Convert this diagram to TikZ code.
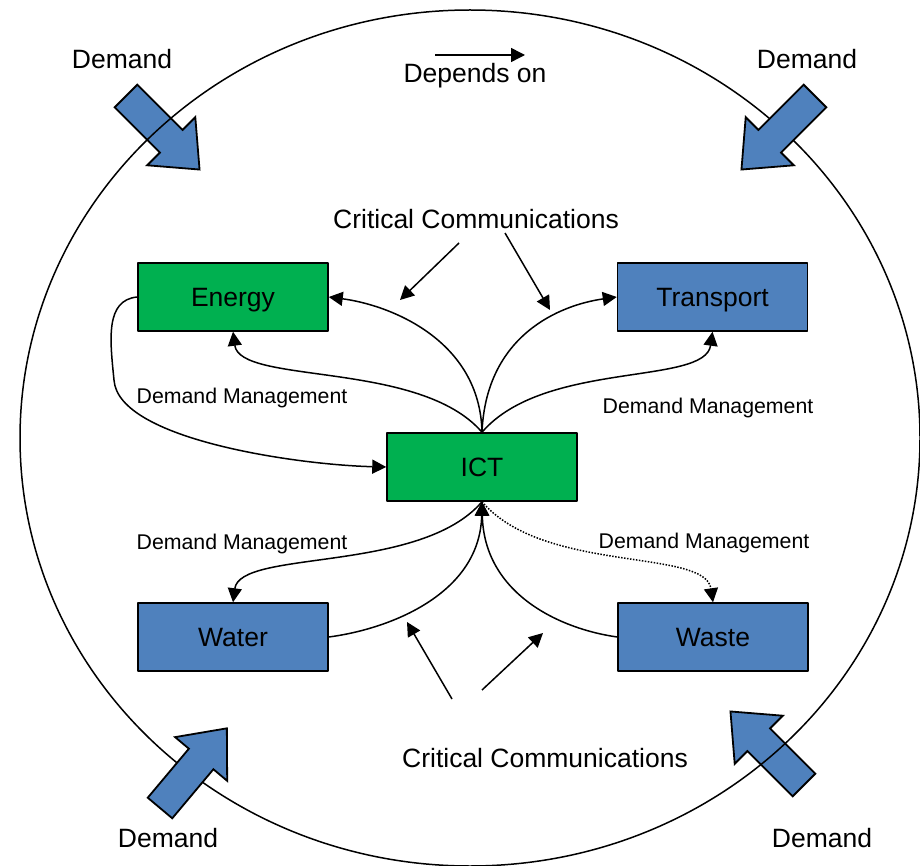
\documentclass[tikz,border=0pt]{standalone}
\usepackage{fontspec}
\setmainfont{Liberation Sans}
\usepackage{tikz}
\usetikzlibrary{arrows,arrows.meta,positioning,calc}
\definecolor{ictgreen}{HTML}{00B050}
\definecolor{sectorblue}{HTML}{4F81BD}
\newcommand\mybig{\fontsize{26.5}{30}\selectfont}
\newcommand\mysmall{\fontsize{21.3}{24}\selectfont}
\newcommand \mydemandarrow[3]
{
\begin{scope}[shift={(#1,#2)},rotate=#3]
\draw[demand] (0,-16)--(64,-16)--(64,-34)--(104,0)--(64,34)--(64,16)--(0,16)--cycle;
\end{scope}
}

\begin{document}
\begin{tikzpicture}[x=1pt,y=1pt, line join=round,
  sector/.style={draw=black, line width=1.5pt, minimum width=190pt, minimum height=68pt, text height=19pt, text depth=0pt, inner sep=0pt, font=\mybig},
  conn/.style={line width=1.5pt, -{Triangle[length=14pt,width=14pt]}},
  demand/.style={fill=sectorblue, draw=black, line width=1.8pt, line join=miter},
  lbl/.style={inner sep=0pt, anchor=base, font=\mybig},
  dm/.style={inner sep=0pt, anchor=base, font=\mysmall}]
\useasboundingbox (0,0) rectangle (920,-866);
% demand arrows, two of them under the ring
\mydemandarrow{126}{-96}{-45}
\mydemandarrow{804}{-785}{135}
\draw[line width=1.5pt] (470,-438) ellipse [x radius=450pt, y radius=428pt];
\mydemandarrow{815}{-96}{-135}
\mydemandarrow{160}{-808}{50}
% sectors
\node[sector,fill=ictgreen]   (energy)    at (233,-297)   {Energy};
\node[sector,fill=sectorblue] (transport) at (712.5,-297) {Transport};
\node[sector,fill=ictgreen]   (ict)       at (482,-467)   {ICT};
\node[sector,fill=sectorblue] (water)     at (233,-637)   {Water};
\node[sector,fill=sectorblue] (waste)     at (713,-637)   {Waste};
% texts
\node[lbl] (demandTL) at (122,-69)  {Demand};
\node[lbl] (demandTR) at (807,-69)  {Demand};
\node[lbl] (demandBL) at (168,-847) {Demand};
\node[lbl] (demandBR) at (822,-847) {Demand};
\node[lbl] (depends)  at (475,-83)  {Depends on};
\node[lbl] (critTop)  at (476,-229) {Critical Communications};
\node[lbl] (critBot)  at (545,-767) {Critical Communications};
\node[dm] (dmEnergy)    at (242,-403) {Demand Management};
\node[dm] (dmTransport) at (708,-413) {Demand Management};
\node[dm] (dmWater)     at (242,-549) {Demand Management};
\node[dm] (dmWaste)     at (704,-548) {Demand Management};
% legend and critical communications arrows
\coordinate (legA) at (435,-55);
\coordinate (legB) at (525,-55);
\coordinate (ccA1) at (459,-243);
\coordinate (ccA2) at (400,-300);
\coordinate (ccB1) at (505,-233);
\coordinate (ccB2) at (550,-310);
\coordinate (ccC1) at (452,-699);
\coordinate (ccC2) at (407,-622);
\coordinate (ccD1) at (482,-690);
\coordinate (ccD2) at (543,-633);
\draw[conn] (legA)--(legB);
\draw[conn] (ccA1)--(ccA2);
\draw[conn] (ccB1)--(ccB2);
\draw[conn] (ccC1)--(ccC2);
\draw[conn] (ccD1)--(ccD2);
% links
\draw[conn] (ict.north) .. controls (480,-340) and (390,-305) .. (energy.east);
\draw[conn] (ict.north) .. controls (420,-360) and (240,-385) .. (energy.south);
\draw[conn] (ict.north) .. controls (486,-335) and (560,-305) .. (transport.west);
\draw[conn] (ict.north) .. controls (544,-360) and (705,-386) .. (transport.south);
\draw[conn] (energy.west) .. controls (105,-300) and (110,-340) .. (114,-380) .. controls (118,-440) and (300,-465) .. (ict.west);
\draw[conn] (water.east) .. controls (390,-629) and (480,-594) .. (ict.south);
\draw[conn] (waste.west) .. controls (560,-629) and (484,-594) .. (ict.south);
\draw[conn] (ict.south) .. controls (420,-574) and (240,-549) .. (water.north);
\draw[conn,dash pattern=on 1.5pt off 1.5pt] (ict.south) .. controls (544,-574) and (705,-548) .. (waste.north);
\end{tikzpicture}
\end{document}
